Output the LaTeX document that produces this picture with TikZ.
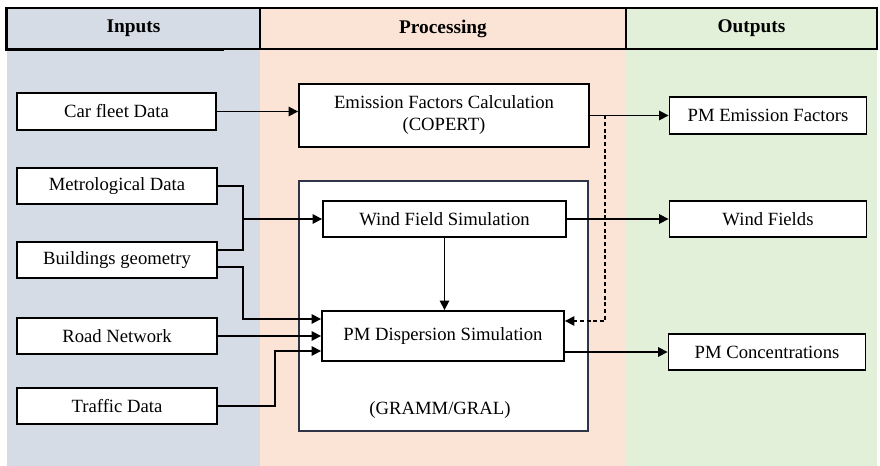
\documentclass[tikz,border=0pt]{standalone}
\usepackage{fontspec}
\setmainfont{Liberation Serif}
\usetikzlibrary{arrows.meta,calc}
\definecolor{inbg}{HTML}{D6DCE5}
\definecolor{prbg}{HTML}{FBE4D6}
\definecolor{outbg}{HTML}{E2EFD9}
\definecolor{bigline}{HTML}{2F3447}
\begin{document}
\begin{tikzpicture}[x=0.75pt,y=-0.75pt,
  every node/.style={font=\fontsize{14}{16.5}\selectfont},
  box/.style={draw=black, line width=1.4pt, fill=white, inner sep=0pt, align=center},
  headcell/.style={draw=black, line width=1pt, inner sep=0pt, font=\fontsize{14.5}{16}\selectfont\bfseries},
  arrowline/.style={line width=1.2pt, -{Triangle[length=7pt,width=7pt]}},
  plainline/.style={line width=1.2pt}]
\useasboundingbox (0,0) rectangle (880,466);
% column backgrounds
\fill[inbg] (7,49) rectangle (260,466);
\fill[prbg] (260,49) rectangle (626,466);
\fill[outbg] (626,49) rectangle (877,466);
% header
\node[headcell, fill=inbg, minimum width=253*0.75pt, minimum height=41*0.75pt] (hin) at (133.5,28.5) {Inputs};
\node[headcell, fill=prbg, minimum width=366*0.75pt, minimum height=41*0.75pt] (hpr) at (443,28.5) {Processing};
\node[headcell, fill=outbg, minimum width=251*0.75pt, minimum height=41*0.75pt] (hout) at (751.5,28.5) {Outputs};
\draw[line width=2pt] (hin.north west) -- (hin.south west) -- ($(hin.south west)+(218,0)$);
% inputs
\node[box, minimum width=199*0.75pt, minimum height=37*0.75pt] (car) at (116.5,111.5) {Car fleet Data};
\node[box, minimum width=200*0.75pt, minimum height=36*0.75pt] (metro) at (117,186) {Metrological Data};
\node[box, minimum width=200*0.75pt, minimum height=36*0.75pt] (build) at (117,260) {Buildings geometry};
\node[box, minimum width=200*0.75pt, minimum height=36*0.75pt] (road) at (117,336) {Road Network};
\node[box, minimum width=200*0.75pt, minimum height=36*0.75pt] (traffic) at (117,406) {Traffic Data};
% processing
\node[box, minimum width=290*0.75pt, minimum height=63*0.75pt] (efc) at (444,115.5) {Emission Factors Calculation\\(COPERT)};
\node[draw=bigline, line width=1pt, fill=white, inner sep=0pt, minimum width=289*0.75pt, minimum height=250*0.75pt] (big) at (443.5,306) {};
\node (gral) at (440,410) {(GRAMM/GRAL)};
\node[box, minimum width=243*0.75pt, minimum height=36*0.75pt] (wind) at (444.5,219) {Wind Field Simulation};
\node[box, minimum width=242*0.75pt, minimum height=50*0.75pt] (pm) at (443,336) {PM Dispersion Simulation};
% outputs
\node[box, minimum width=197*0.75pt, minimum height=37*0.75pt] (pmef) at (768,115.5) {PM Emission Factors};
\node[box, minimum width=197*0.75pt, minimum height=36*0.75pt] (wf) at (768,219) {Wind Fields};
\node[box, minimum width=197*0.75pt, minimum height=36*0.75pt] (pmc) at (767,352) {PM Concentrations};
% connectors
\draw[arrowline] (car.east) -- (car.east -| efc.west);
\draw[arrowline] (efc.east |- pmef.west) -- (pmef.west);
\coordinate (m1) at (243,250);
\draw[plainline] (metro.east) -| (m1) -- (m1 -| build.east);
\draw[arrowline] (m1 |- wind.west) -- (wind.west);
\coordinate (b1) at (243,319);
\draw[arrowline] ($(build.east)+(0,7)$) -| (b1) -- (b1 -| pm.west);
\draw[arrowline] (road.east) -- (road.east -| pm.west);
\coordinate (t1) at (275,351);
\draw[arrowline] (traffic.east) -| (t1) -- (t1 -| pm.west);
\draw[arrowline] (wind.south) -- (wind.south |- pm.north);
\draw[arrowline] (wind.east) -- (wf.west);
\draw[arrowline] (pmc.west -| pm.east) -- (pmc.west);
\coordinate (d1) at (605,321);
\draw[arrowline, dashed, dash pattern=on 3pt off 2pt] (d1 |- pmef.west) -- (d1) -- (d1 -| pm.east);
\end{tikzpicture}
\end{document}
